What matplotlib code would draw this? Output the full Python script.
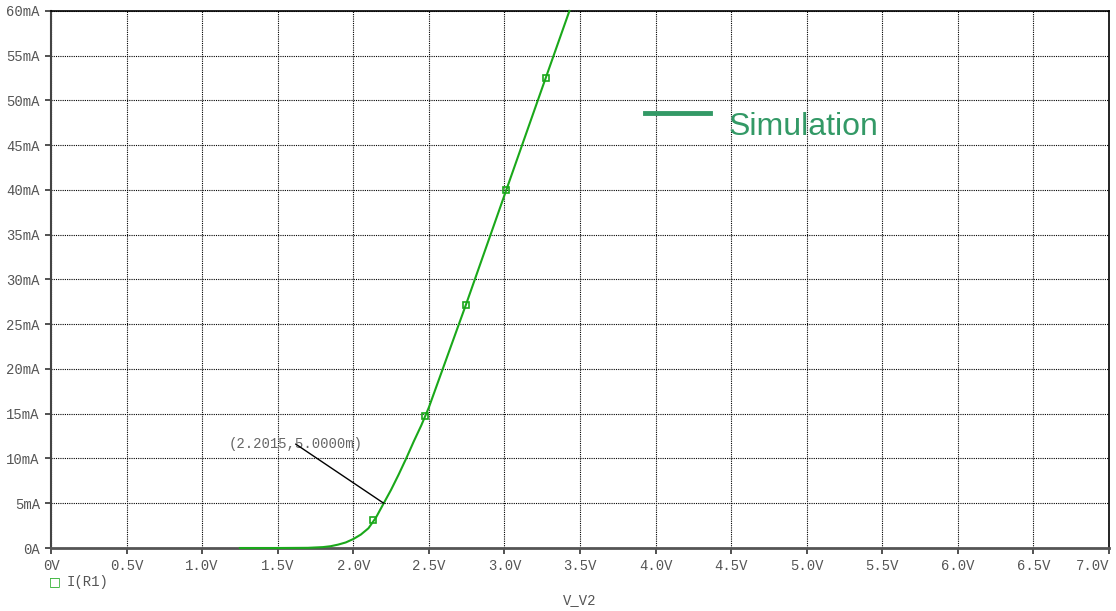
import matplotlib
matplotlib.use("Agg")
import matplotlib.pyplot as plt

# curve I(R1) vs V_V2 (volts, mA)
volts = [1.25, 1.5, 1.7, 1.8, 1.85, 1.9, 1.95, 2.0, 2.05, 2.1, 2.15, 2.2015, 2.25, 2.3,
         2.35, 2.4, 2.45, 2.5, 2.75, 3.0, 3.25, 3.43]
current_ma = [0.0, 0.0, 0.02, 0.1, 0.2, 0.38, 0.62, 1.0, 1.5, 2.2, 3.4, 5.0, 6.5, 8.2,
              10.0, 11.9, 13.7, 15.7, 27.4, 39.4, 51.4, 60.0]

# marker points on the trace
mark_v = [2.13, 2.477, 2.748, 3.013, 3.272]
mark_i = [3.1, 14.75, 27.15, 40.0, 52.5]

x_ticks = [0, 0.5, 1.0, 1.5, 2.0, 2.5, 3.0, 3.5, 4.0, 4.5, 5.0, 5.5, 6.0, 6.5, 7.0]
x_labels = ["0V", "0.5V", "1.0V", "1.5V", "2.0V", "2.5V", "3.0V", "3.5V", "4.0V",
            "4.5V", "5.0V", "5.5V", "6.0V", "6.5V", "7.0V"]
y_ticks = [0, 5, 10, 15, 20, 25, 30, 35, 40, 45, 50, 55, 60]
y_labels = ["0A", "5mA", "10mA", "15mA", "20mA", "25mA", "30mA", "35mA", "40mA",
            "45mA", "50mA", "55mA", "60mA"]

cursor_v = 2.2015
cursor_i = 5.0
cursor_label = "(2.2015,5.0000m)"

mono = "Liberation Mono"
grey = "#555555"
green = "#1aa81a"
sim_green = "#339966"

fig = plt.figure(figsize=(11.16, 6.11), dpi=100)
ax = fig.add_axes([0.0457, 0.1031, 0.948, 0.879])

ax.plot(volts, current_ma, color=green, lw=1.5, zorder=3, clip_on=False)
ax.plot(mark_v, mark_i, ls="none", marker="s", ms=5, mfc="none", mec=green,
        mew=1.2, zorder=4)

ax.set_xlim(0, 7)
ax.set_ylim(0, 60)
ax.set_xticks(x_ticks, x_labels, fontfamily=mono)
ax.set_yticks(y_ticks, y_labels, fontfamily=mono)
ax.get_xticklabels()[-1].set_horizontalalignment("right")

ax.grid(True, color="black", ls=(0, (1, 1)), lw=0.8)
ax.tick_params(direction="out", length=4, width=1.2, colors="#333333",
               labelcolor=grey, labelsize=10, pad=4)

for side in ["top", "right"]:
    ax.spines[side].set_color("black")
    ax.spines[side].set_linewidth(1.2)
ax.spines["left"].set_color("#444444")
ax.spines["left"].set_linewidth(1.5)
ax.spines["bottom"].set_color("#555555")
ax.spines["bottom"].set_linewidth(2)

# cursor annotation
ax.text(1.62, 11.6, cursor_label, fontsize=10, family=mono, color="#666666",
        ha="center", va="center", zorder=5)
ax.plot([1.62, cursor_v], [11.6, cursor_i], color="black", lw=1, zorder=5)

# legend-like label on the chart
ax.plot([3.927, 4.36], [48.6, 48.6], color=sim_green, lw=3.5, zorder=5)
ax.text(4.483, 47.0, "Simulation", color=sim_green, fontsize=23,
        family="Liberation Sans", va="center", ha="left", zorder=5)

# bottom legend and x label
fig.text(55 / 1116, 1 - 582 / 611, "\u25a1", color=green, fontsize=9,
         family="DejaVu Sans", va="center", ha="center")
fig.text(67 / 1116, 1 - 582 / 611, "I(R1)", color=grey, fontsize=10,
         family=mono, va="center", ha="left")
fig.text(580 / 1116, 1 - 600 / 611, "V_V2", color=grey, fontsize=10,
         family=mono, va="center", ha="center")

fig.savefig("out.png", dpi=100)
